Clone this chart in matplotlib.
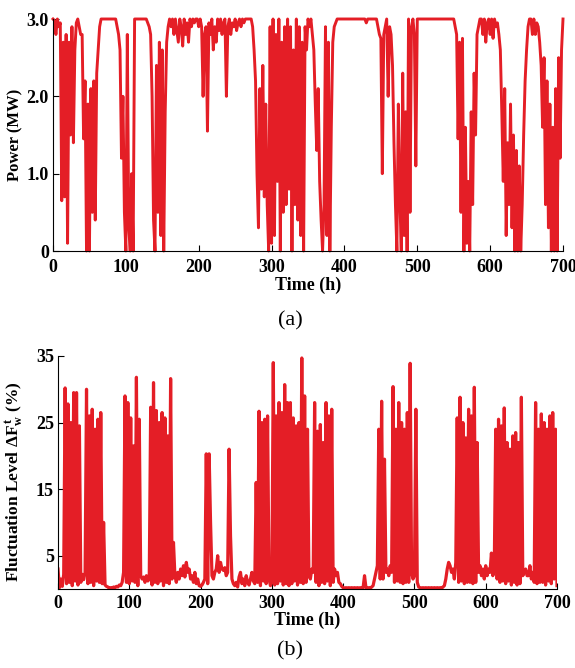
import numpy as np
import matplotlib
matplotlib.use("Agg")
import matplotlib.pyplot as plt

plt.rcParams['font.family'] = ['Liberation Serif', 'DejaVu Serif']
plt.rcParams['mathtext.fontset'] = 'custom'
plt.rcParams['mathtext.rm'] = 'Liberation Serif'
plt.rcParams['mathtext.bf'] = 'Liberation Serif:bold'

# time axis, one reading every 2 h
hours = np.arange(0, 701, 2)

# (a) wind power output, MW
power = [
    3.0, 2.98, 2.8, 3.0, 2.9, 2.95, 0.65, 2.7, 0.7, 2.8,
    0.1, 2.7, 1.5, 2.9, 1.4, 2.6, 2.95, 3.0, 2.9, 2.8,
    2.8, 1.45, 2.2, 0.0, 1.9, 0.0, 2.1, 0.5, 2.2, 0.4,
    2.3, 2.6, 2.9, 3.0, 3.0, 3.0, 3.0, 3.0, 3.0, 3.0,
    3.0, 3.0, 3.0, 3.0, 2.9, 2.8, 2.6, 1.2, 2.0, 0.5,
    0.0, 2.8, 0.3, 0.0, 1.0, 0.0, 3.0, 3.0, 3.0, 3.0,
    3.0, 3.0, 3.0, 3.0, 3.0, 2.95, 2.9, 2.8, 2.0, 0.4,
    0.0, 2.4, 0.5, 2.7, 0.2, 2.6, 0.0, 1.8, 2.7, 2.9,
    3.0, 2.9, 3.0, 2.8, 3.0, 2.85, 2.7, 3.0, 2.9, 2.65,
    3.0, 2.8, 2.95, 2.7, 3.0, 2.9, 3.0, 2.95, 3.0, 3.0,
    2.9, 3.0, 2.9, 2.0, 2.8, 2.9, 1.55, 2.95, 2.8, 3.0,
    2.6, 2.9, 2.7, 3.0, 2.85, 3.0, 2.8, 2.95, 3.0, 2.0,
    2.9, 3.0, 2.8, 2.95, 2.9, 3.0, 2.85, 2.95, 3.0, 2.9,
    3.0, 2.95, 3.0, 3.0, 3.0, 3.0, 3.0, 2.9, 2.6, 2.2,
    1.0, 0.3, 2.1, 0.8, 2.4, 0.7, 1.9, 0.6, 0.0, 2.9,
    0.1, 3.0, 0.2, 2.8, 0.9, 3.0, 0.0, 2.7, 0.5, 2.9,
    0.6, 3.0, 0.8, 2.9, 0.0, 2.6, 0.6, 3.0, 0.4, 2.9,
    0.2, 2.7, 0.0, 2.9, 2.6, 3.0, 2.9, 3.0, 2.8, 2.6,
    1.9, 1.3, 2.1, 0.9, 0.4, 0.0, 0.6, 2.9, 0.2, 2.7,
    0.0, 1.6, 2.7, 2.9, 2.95, 3.0, 3.0, 3.0, 3.0, 3.0,
    3.0, 3.0, 3.0, 3.0, 3.0, 3.0, 3.0, 3.0, 3.0, 3.0,
    3.0, 3.0, 3.0, 3.0, 3.0, 2.95, 3.0, 3.0, 3.0, 3.0,
    3.0, 3.0, 3.0, 2.9, 2.8, 2.75, 1.0, 2.8, 2.9, 3.0,
    2.0, 2.9, 2.8, 2.4, 1.4, 0.6, 0.0, 1.9, 0.7, 0.0,
    2.3, 0.2, 1.8, 0.0, 3.0, 0.5, 2.9, 3.0, 2.8, 1.1,
    3.0, 3.0, 3.0, 3.0, 3.0, 3.0, 3.0, 3.0, 3.0, 3.0,
    3.0, 3.0, 3.0, 3.0, 3.0, 3.0, 3.0, 3.0, 3.0, 3.0,
    3.0, 3.0, 3.0, 3.0, 3.0, 3.0, 2.9, 2.8, 1.45, 2.7,
    0.5, 2.75, 0.0, 1.6, 0.1, 0.9, 0.0, 1.8, 0.6, 2.3,
    1.5, 2.8, 2.9, 3.0, 3.0, 2.8, 3.0, 2.7, 2.95, 3.0,
    2.8, 3.0, 2.75, 3.0, 2.9, 2.95, 2.8, 2.6, 1.8, 0.9,
    2.1, 0.2, 1.4, 0.6, 1.9, 0.3, 1.5, 0.0, 1.3, 0.0,
    1.1, 0.0, 0.6, 1.5, 2.2, 2.6, 2.9, 3.0, 3.0, 2.8,
    3.0, 2.8, 2.95, 2.9, 2.7, 2.4, 1.6, 2.5, 0.6, 2.2,
    0.3, 1.9, 0.0, 1.6, 0.0, 2.1, 0.0, 2.5, 1.2, 2.6,
    3.0,
]

# (b) fluctuation level, %
fluct = [
    3.0, 0.2, 1.5, 0.4, 2.2, 30.2, 0.8, 27.8, 1.0, 25.0,
    0.5, 29.5, 1.2, 29.5, 0.6, 24.5, 1.0, 2.2, 1.4, 2.5,
    30.0, 0.8, 26.0, 1.0, 27.0, 0.5, 24.0, 1.2, 25.5, 1.0,
    26.5, 0.8, 10.0, 0.6, 0.4, 0.3, 0.1, 0.2, 0.1, 0.3,
    0.2, 0.4, 0.3, 0.6, 0.5, 1.0, 2.5, 29.0, 1.0, 28.0,
    0.8, 25.7, 1.2, 21.5, 1.0, 31.8, 0.5, 25.5, 2.0, 1.5,
    1.8, 1.0, 2.0, 1.2, 1.5, 27.3, 0.6, 31.0, 1.0, 26.8,
    0.8, 25.0, 1.2, 26.5, 0.5, 25.7, 1.0, 23.0, 0.8, 31.6,
    1.5, 7.0, 2.0, 1.0, 2.5, 1.5, 3.0, 2.0, 3.5, 1.8,
    4.0, 2.5, 3.0, 1.5, 2.0, 1.0, 2.5, 0.8, 1.5, 0.5,
    0.4, 0.6, 1.0, 1.5, 20.3, 0.8, 20.3, 10.0, 2.0, 1.5,
    2.5, 3.0, 5.0, 2.5, 4.0, 3.0, 2.8, 3.2, 2.0, 2.5,
    21.0, 8.0, 1.5, 0.8, 0.5, 1.0, 0.3, 1.8, 2.5, 0.8,
    1.5, 0.5, 2.0, 1.0, 0.6, 1.5, 2.5, 1.2, 0.8, 16.0,
    1.0, 26.7, 0.5, 25.0, 1.2, 25.5, 0.8, 26.0, 1.5, 0.5,
    1.0, 34.0, 0.6, 26.0, 0.8, 28.0, 1.2, 26.5, 0.6, 30.7,
    0.8, 28.0, 0.5, 28.0, 0.8, 25.7, 1.2, 24.5, 0.6, 25.0,
    1.0, 34.7, 0.8, 29.0, 1.0, 24.0, 2.0, 1.5, 3.0, 2.5,
    28.0, 1.0, 23.7, 0.5, 24.7, 1.0, 22.0, 0.8, 28.0, 1.2,
    26.0, 0.5, 27.0, 1.0, 3.0, 2.0, 2.5, 1.0, 0.8, 0.4,
    0.2, 0.1, 0.2, 0.1, 0.2, 0.1, 0.2, 0.1, 0.2, 0.1,
    0.2, 0.1, 0.2, 0.1, 0.2, 2.0, 0.2, 0.1, 0.2, 0.1,
    0.3, 0.5, 1.5, 2.5, 3.5, 24.0, 1.5, 28.2, 1.5, 19.5,
    2.5, 3.0, 2.0, 3.5, 2.5, 30.4, 1.0, 24.0, 1.2, 28.0,
    1.0, 25.0, 0.8, 24.0, 1.0, 26.5, 1.0, 33.9, 2.5, 1.5,
    2.0, 27.0, 1.0, 0.3, 0.2, 0.1, 0.2, 0.1, 0.2, 0.1,
    0.2, 0.1, 0.2, 0.1, 0.2, 0.1, 0.2, 0.1, 0.2, 0.1,
    0.3, 0.5, 1.5, 3.0, 4.0, 3.5, 2.5, 3.0, 1.5, 4.0,
    25.7, 1.0, 28.8, 1.2, 25.0, 0.8, 22.7, 1.0, 27.0, 1.0,
    26.0, 0.8, 30.3, 1.0, 22.0, 2.5, 3.5, 2.0, 3.0, 1.5,
    3.5, 2.0, 3.0, 2.5, 5.4, 2.0, 3.0, 24.0, 1.5, 25.5,
    1.0, 24.5, 1.2, 27.2, 0.8, 22.0, 1.2, 21.0, 0.6, 23.0,
    1.0, 23.5, 0.6, 22.0, 0.8, 28.8, 2.0, 2.5, 3.0, 2.0,
    2.0, 3.5, 1.5, 2.5, 1.0, 28.0, 0.8, 24.0, 1.0, 26.3,
    1.0, 25.0, 0.6, 24.0, 1.2, 26.0, 0.8, 26.5, 1.5, 24.0,
    0.5,
]

red = '#e41e26'

fig = plt.figure(figsize=(5.75, 6.68), dpi=100)

# panel (a)
ax1 = fig.add_axes([53/575, 1-251/668, 510/575, 232/668])
ax1.plot(hours, power, color=red, lw=2.1, clip_on=False)
ax1.set_xlim(0, 700)
ax1.set_ylim(0, 3.0)
ax1.set_yticks([0, 1.0, 2.0, 3.0])
ax1.set_yticklabels(['0', '1.0', '2.0', '3.0'])
ax1.set_xlabel('Time (h)', fontsize=13, fontweight='bold', labelpad=0)
ax1.set_ylabel('Power (MW)', fontsize=12, fontweight='bold', labelpad=2)
fig.text(290/575, 1-321/668, '(a)', fontsize=16, ha='center', va='center')

# panel (b)
ax2 = fig.add_axes([58/575, 1-589/668, 499/575, 233/668])
ax2.plot(hours, fluct, color=red, lw=2.3)
ax2.set_xlim(0, 700)
ax2.set_ylim(0, 35)
ax2.set_yticks([5, 15, 25, 35])
ax2.set_xlabel('Time (h)', fontsize=13, fontweight='bold', labelpad=0)
ax2.set_ylabel(r'Fluctuation Level $\mathbf{\Delta F^{\,t}_{w}}$ (%)',
               fontsize=12.5, fontweight='bold')
ax2.yaxis.set_label_coords(-0.066, 0.46)
fig.text(290/575, 1-651/668, '(b)', fontsize=16, ha='center', va='center')

for ax in (ax1, ax2):
    ax.set_xticks(range(0, 701, 100))
    ax.spines['top'].set_visible(False)
    ax.spines['right'].set_visible(False)
    ax.tick_params(direction='in', length=4, width=0.8, labelsize=13, pad=3)
    for lab in ax.get_xticklabels() + ax.get_yticklabels():
        lab.set_fontweight('bold')
ax1.tick_params(axis='x', pad=6)
ax2.tick_params(axis='x', pad=4)

fig.savefig('out.png', dpi=100)
